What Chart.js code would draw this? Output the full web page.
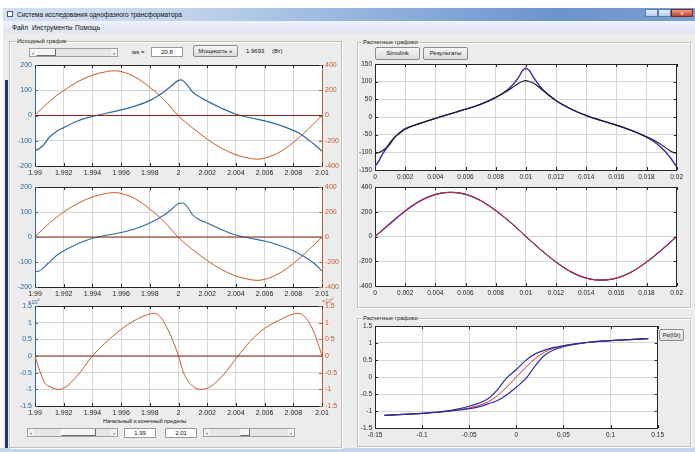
<!DOCTYPE html>
<html><head><meta charset="utf-8">
<script src="https://cdn.jsdelivr.net/npm/chart.js"></script>
<style>
body{margin:0;width:695px;height:452px;overflow:hidden;background:#ececec;font-family:"Liberation Sans",Arial,sans-serif;position:relative}
.a{position:absolute}
canvas{position:absolute}
.panel{position:absolute;border:1px solid #c0c0c0;box-shadow:inset 1px 1px 0 #fff,1px 1px 0 #fff}
.ptitle{position:absolute;background:#ececec;font-size:6px;color:#222;padding:0 1px;white-space:nowrap}
.btn{position:absolute;background:linear-gradient(#f7f7f7,#dcdcdc);border:1px solid #8c8c8c;border-radius:2px;font-size:6px;color:#111;text-align:center;box-sizing:border-box;white-space:nowrap}
.edit{position:absolute;background:#fff;border:1px solid #9a9a9a;font-size:6px;text-align:center;box-sizing:border-box;color:#111}
.slider{position:absolute;background:#e6e6e6;border:1px solid #a0a0a0;box-sizing:border-box}
.slider .ar{position:absolute;top:0;bottom:0;width:6px;background:#f4f4f4;font-size:6px;line-height:8px;text-align:center;color:#222}
.slider .th{position:absolute;top:0;bottom:0;background:#f6f6f6;border-left:1px solid #fff;border-right:1px solid #6d6d6d;border-bottom:1px solid #6d6d6d;box-sizing:border-box}
.t{position:absolute;font-size:6px;color:#111;white-space:nowrap}
</style></head><body>
<!-- window chrome -->
<div class="a" style="left:0;top:0;width:695px;height:8px;background:#fff"></div>
<div class="a" style="left:0;top:8px;width:3px;height:444px;background:#fff"></div>
<div class="a" style="left:3px;top:8px;width:692px;height:13px;background:linear-gradient(to right,#d4e1f1 0%,#c3d5ec 25%,#8fb0dc 55%,#6c94cc 80%,#7c9fd0 100%)"></div>
<div class="a" style="left:7px;top:11px;width:6px;height:6px;background:#fff;border:1px solid #557;box-sizing:border-box"></div>
<div class="t" style="left:17px;top:11px;font-size:6.5px">Система исследования однофазного трансформатора</div>
<div class="a" style="left:645px;top:9px;width:13px;height:8px;background:linear-gradient(#e3eefa,#b8cde8);border:1px solid #5d7fae;box-sizing:border-box"></div>
<div class="a" style="left:658px;top:9px;width:13px;height:8px;background:linear-gradient(#e3eefa,#b8cde8);border:1px solid #5d7fae;box-sizing:border-box"></div>
<div class="a" style="left:671px;top:9px;width:22px;height:8px;background:linear-gradient(#e8a090,#c4402e);border:1px solid #7a2a20;box-sizing:border-box;color:#fff;font-size:6px;line-height:6px;text-align:center">x</div>
<div class="a" style="left:3px;top:21px;width:692px;height:12px;background:linear-gradient(#eef2f9,#dfe6f3)"></div>
<div class="t" style="left:12px;top:24px;font-size:6.5px">Файл</div>
<div class="t" style="left:32px;top:24px;font-size:6.5px">Инструменты</div>
<div class="t" style="left:75px;top:24px;font-size:6.5px">Помощь</div>
<div class="a" style="left:5px;top:80px;width:3px;height:368px;background:#1f3a6a"></div>
<div class="a" style="left:0;top:448px;width:695px;height:4px;background:#c3d6ec"></div>

<!-- panels -->
<div class="panel" style="left:9px;top:41px;width:331px;height:405px"></div>
<div class="ptitle" style="left:16px;top:38px">Исходный график</div>
<div class="panel" style="left:357px;top:42px;width:332px;height:264px"></div>
<div class="ptitle" style="left:362px;top:39px">Расчетные графики</div>
<div class="panel" style="left:357px;top:318px;width:332px;height:127px"></div>
<div class="ptitle" style="left:362px;top:315px">Расчетные графики</div>

<!-- left top controls -->
<div class="slider" style="left:29px;top:48px;width:89px;height:9px"><div class="ar" style="left:0">‹</div><div class="th" style="left:6px;width:20px"></div><div class="ar" style="right:0">›</div></div>
<div class="t" style="left:132px;top:49px">ws =</div>
<div class="edit" style="left:151px;top:47px;width:32px;height:10px;line-height:8px">20.8</div>
<div class="btn" style="left:193px;top:45px;width:45px;height:12px;line-height:10px">Мощность »</div>
<div class="t" style="left:246px;top:48px">1.9693</div>
<div class="t" style="left:272px;top:48px">(Вт)</div>

<!-- left bottom controls -->
<div class="t" style="left:103px;top:418px;font-size:5.5px">Начальный и конечный пределы</div>
<div class="slider" style="left:27px;top:428px;width:91px;height:9px"><div class="ar" style="left:0">‹</div><div class="th" style="left:33px;width:35px"></div><div class="ar" style="right:0">›</div></div>
<div class="edit" style="left:124px;top:428px;width:32px;height:10px;line-height:8px">1.99</div>
<div class="edit" style="left:165px;top:428px;width:32px;height:10px;line-height:8px">2.01</div>
<div class="slider" style="left:203px;top:428px;width:92px;height:9px"><div class="ar" style="left:0">‹</div><div class="th" style="left:36px;width:10px"></div><div class="ar" style="right:0">›</div></div>

<!-- right controls -->
<div class="btn" style="left:375px;top:47px;width:45px;height:13px;line-height:11px">Simulink</div>
<div class="btn" style="left:423px;top:47px;width:45px;height:13px;line-height:11px">Результаты</div>
<div class="btn" style="left:659px;top:329px;width:25px;height:12px;line-height:10px;font-size:5.5px">Psi(I0r)</div>

<div class="t" style="left:28px;top:297px;font-size:5.5px;color:#2f5f8f">×10<sup style="font-size:4px">4</sup></div>
<div class="t" style="left:322px;top:296px;font-size:5.5px;color:#c0602c">×10<sup style="font-size:4px">4</sup></div>

<canvas id="p1" width="347" height="123" style="left:5px;top:57px"></canvas>
<canvas id="p2" width="347" height="122" style="left:5px;top:179px"></canvas>
<canvas id="p3" width="347" height="122" style="left:5px;top:298px"></canvas>
<canvas id="r1" width="341" height="128" style="left:345px;top:56px"></canvas>
<canvas id="r2" width="341" height="121" style="left:345px;top:179px"></canvas>
<canvas id="r3" width="322" height="124" style="left:345px;top:318px"></canvas>

<script>
// ---------- tick labels ----------
const leftXTicks = [1.99,1.992,1.994,1.996,1.998,2,2.002,2.004,2.006,2.008,2.01];
const currentTicks = [-200,-100,0,100,200];
const voltageTicks = [-400,-200,0,200,400];
const fluxTicks = [-15000,-10000,-5000,0,5000,10000,15000];
const rightXTicks = [0,0.002,0.004,0.006,0.008,0.01,0.012,0.014,0.016,0.018,0.02];
const r1YTicks = [-150,-100,-50,0,50,100,150];
const r2YTicks = [-400,-200,0,200,400];
const hystXTicks = [-0.15,-0.1,-0.05,0,0.05,0.1,0.15];
const hystYTicks = [-1.5,-1,-0.5,0,0.5,1,1.5];

// ---------- plot 1 (source data) ----------
const p1Time = [1.99,1.9905,1.991,1.9915,1.992,1.993,1.994,1.995,1.996,1.997,1.998,1.9985,1.999,1.9995,2,2.0002,2.0005,2.001,2.0015,2.002,2.003,2.004,2.005,2.006,2.007,2.008,2.0085,2.009,2.0095,2.01];
const p1Current = [-140,-123,-86,-63,-48,-21,-4,9,22,38,59,75,94,117,139,141,128,92,73,57,29,5,-9,-21,-37,-59,-73,-94,-116,-141];
const p1VTime = [1.99,1.991,1.992,1.993,1.994,1.995,1.9955,1.996,1.997,1.998,1.999,2,2.001,2.002,2.003,2.004,2.005,2.0055,2.006,2.007,2.008,2.009,2.01];
const p1Voltage = [3,111,198,269,319,348,354,348,303,224,124,-3,-100,-187,-259,-311,-340,-346,-338,-293,-214,-113,0];

// ---------- plot 2 ----------
const p2Time = [1.99,1.9903,1.9909,1.9915,1.992,1.993,1.994,1.995,1.996,1.997,1.998,1.999,1.9995,2,2.0003,2.0006,2.001,2.0015,2.002,2.003,2.004,2.005,2.006,2.007,2.008,2.0085,2.009,2.0095,2.01];
const p2Current = [-138,-136,-106,-74,-55,-27,-5,7,18,33,56,88,110,134,136,122,88,68,56,30,8,-5,-16,-33,-55,-70,-87,-108,-136];
const p2VTime = [1.99,1.991,1.992,1.993,1.994,1.995,1.9955,1.996,1.997,1.998,1.999,2,2.001,2.002,2.003,2.004,2.005,2.0055,2.006,2.007,2.008,2.009,2.01];
const p2Voltage = [2,110,200,270,320,349,355,349,304,224,122,-4,-102,-188,-260,-312,-341,-347,-339,-292,-212,-112,0];

// ---------- plot 3 ----------
const p3Time = [1.99,1.99035,1.9907,1.99104,1.99162,1.992,1.9929,1.994,1.995,1.996,1.99708,1.998,1.99835,1.99882,1.99928,1.99968,2,2.00032,2.00079,2.00148,2.002,2.00311,2.00415,2.00497,2.006,2.00729,2.008,2.0084,2.0089,2.00937,2.00972,2.01];
const p3Flux = [0,-4700,-8200,-9200,-10000,-9700,-6200,0,4300,8000,11000,12600,12800,11300,7800,3800,0,-4700,-8200,-10000,-9700,-5700,0,4300,8300,11300,12600,12800,11300,7800,3800,0];

// ---------- right plot 1 ----------
const r1Time = [0,0.00025,0.0005,0.00075,0.001,0.0013,0.0017,0.002,0.003,0.004,0.005,0.006,0.007,0.008,0.0085,0.009,0.0095,0.0098,0.01,0.0102,0.0105,0.011,0.0115,0.012,0.013,0.014,0.015,0.016,0.017,0.018,0.0185,0.019,0.0195,0.01975,0.02];
const r1Red   = [-141,-126,-106,-90,-77,-58,-42,-33,-18,-4,9,22,36,55,68,86,112,133,139,134,113,84,63,46,22,4,-10,-23,-38,-57,-70,-88,-112,-127,-142];
const r1Blue  = [-139,-124,-104,-89,-76,-58,-42,-33,-18,-4,9,22,36,55,68,85,111,132,137,133,112,83,62,46,22,4,-10,-23,-38,-57,-70,-87,-110,-125,-140];
const r1Black = [-103,-101,-95,-87,-72,-57,-44,-35,-18,-4,9,22,36,56,67,80,95,101,103,101,96,80,63,47,23,4,-10,-23,-38,-56,-66,-79,-94,-100,-103];

// ---------- right plot 2 ----------
const r2Time = [0,0.001,0.002,0.003,0.004,0.005,0.006,0.007,0.008,0.009,0.01,0.011,0.012,0.013,0.014,0.015,0.016,0.017,0.018,0.019,0.02];
const r2Red   = [0,110,210,290,340,357,341,290,209,111,0,-109,-207,-286,-336,-352,-336,-286,-206,-108,0];
const r2Blue  = [0,102,205,288,339,356,341,291,210,112,1,-108,-206,-286,-336,-353,-337,-287,-207,-109,0];
const r2Black = [0,105,207,289,340,357,342,291,210,112,1,-108,-207,-287,-337,-353,-337,-287,-207,-109,-1];

// ---------- hysteresis ----------
const hystI = [-0.14,-0.12,-0.1,-0.08,-0.06,-0.05,-0.04,-0.03,-0.02,-0.01,0,0.01,0.02,0.03,0.04,0.05,0.06,0.08,0.1,0.12,0.14];
const hystMid   = [-1.13,-1.10,-1.07,-1.03,-0.96,-0.91,-0.84,-0.73,-0.55,-0.29,0,0.28,0.54,0.73,0.85,0.92,0.97,1.03,1.07,1.10,1.13];
const hystUpper = [-1.13,-1.10,-1.07,-1.02,-0.93,-0.86,-0.77,-0.64,-0.37,-0.02,0.22,0.49,0.68,0.79,0.87,0.92,0.96,1.03,1.07,1.10,1.13];
const hystLower = [-1.13,-1.10,-1.07,-1.03,-0.97,-0.93,-0.88,-0.79,-0.69,-0.52,-0.30,-0.05,0.33,0.64,0.80,0.89,0.95,1.03,1.07,1.10,1.13];

// ---------- helpers ----------
const BLUE='#2f6a9c', ORANGE='#c65b2d', ZERO='#8a2812', DARK='#262626';
const pts = (xs, ys) => xs.map((x,i)=>({x, y:ys[i]}));
const fmtNum = v => String(+(+v).toFixed(4));

function scale(ticksArr, opt){
  const o = Object.assign({pos:'left', color:DARK, lab:DARK, fmt:fmtNum, grid:true, size:30, font:7}, opt);
  return {
    type:'linear', position:o.pos, min:ticksArr[0], max:ticksArr[ticksArr.length-1],
    afterBuildTicks: s => { s.ticks = ticksArr.map(v=>({value:v})); },
    afterFit: s => { if (o.pos==='bottom') s.height = o.size; else s.width = o.size; },
    ticks:{color:o.lab, font:{family:'Liberation Sans', size:o.font}, padding:3, autoSkip:false, maxRotation:0, callback:o.fmt},
    grid:{display:o.grid, drawOnChartArea:o.grid, color:'#d6d6d6', lineWidth:1, drawTicks:false},
    border:{display:true, color:o.color, width:1}
  };
}
function line(data, color, axis, w){
  return {data, borderColor:color, borderWidth:w||1.1, pointRadius:0, fill:false,
    cubicInterpolationMode:'monotone', yAxisID:axis||'y'};
}
const bgPlugin = {
  id:'bg',
  beforeDraw(chart){
    const {ctx, chartArea:a} = chart;
    ctx.save(); ctx.fillStyle = '#ffffff';
    ctx.fillRect(a.left, a.top, a.right-a.left, a.bottom-a.top);
    ctx.restore();
  }
};
const framePlugin = {
  id:'frame',
  afterDatasetsDraw(chart){
    const {ctx, chartArea:a, scales} = chart;
    const L = 3;
    ctx.save(); ctx.lineWidth = 1;
    const x = scales.x;
    ctx.strokeStyle = DARK;
    x.ticks.forEach(t => { const p = Math.round(x.getPixelForValue(t.value))+0.5;
      ctx.beginPath(); ctx.moveTo(p,a.bottom); ctx.lineTo(p,a.bottom-L); ctx.moveTo(p,a.top); ctx.lineTo(p,a.top+L); ctx.stroke(); });
    ctx.beginPath(); ctx.moveTo(a.left, Math.round(a.top)+0.5); ctx.lineTo(a.right, Math.round(a.top)+0.5); ctx.stroke();
    const y = scales.y, y2 = scales.y2;
    ctx.strokeStyle = y.options.border.color;
    y.ticks.forEach(t => { const p = Math.round(y.getPixelForValue(t.value))+0.5;
      ctx.beginPath(); ctx.moveTo(a.left,p); ctx.lineTo(a.left+L,p);
      if (!y2){ ctx.moveTo(a.right,p); ctx.lineTo(a.right-L,p); }
      ctx.stroke(); });
    if (y2){
      ctx.strokeStyle = y2.options.border.color;
      y2.ticks.forEach(t => { const p = Math.round(y2.getPixelForValue(t.value))+0.5;
        ctx.beginPath(); ctx.moveTo(a.right,p); ctx.lineTo(a.right-L,p); ctx.stroke(); });
    } else {
      ctx.strokeStyle = DARK;
      ctx.beginPath(); ctx.moveTo(Math.round(a.right)-0.5, a.top); ctx.lineTo(Math.round(a.right)-0.5, a.bottom); ctx.stroke();
    }
    ctx.restore();
  }
};
function make(id, datasets, scales, padTop){
  new Chart(document.getElementById(id), {
    type:'line',
    data:{datasets},
    options:{responsive:false, animation:false, events:[], devicePixelRatio:1,
      layout:{padding:{top:padTop||8, left:0, right:0, bottom:0}},
      plugins:{legend:{display:false}, tooltip:{enabled:false}},
      scales},
    plugins:[bgPlugin, framePlugin]
  });
}
const xLeft = () => scale(leftXTicks, {pos:'bottom', size:14});
const zeroLine = [{x:leftXTicks[0], y:0},{x:leftXTicks[leftXTicks.length-1], y:0}];

make('p1', [
  line(zeroLine, ZERO, 'y2', 1.2),
  line(pts(p1Time,p1Current), BLUE, 'y', 1.2),
  line(pts(p1VTime,p1Voltage), ORANGE, 'y2', 1)
], {x:xLeft(), y:scale(currentTicks,{color:BLUE, lab:BLUE}), y2:scale(voltageTicks,{pos:'right', color:ORANGE, lab:ORANGE, grid:false})});

make('p2', [
  line(zeroLine, ZERO, 'y2', 1.2),
  line(pts(p2Time,p2Current), BLUE, 'y', 1.1),
  line(pts(p2VTime,p2Voltage), ORANGE, 'y2', 1)
], {x:xLeft(), y:scale(currentTicks,{color:BLUE, lab:BLUE}), y2:scale(voltageTicks,{pos:'right', color:ORANGE, lab:ORANGE, grid:false})});

const fluxFmt = v => String(+(v/1e4).toFixed(2));
make('p3', [
  line(zeroLine, ZERO, 'y2', 1.2),
  line(pts(p3Time,p3Flux), ORANGE, 'y2', 1)
], {x:xLeft(), y:scale(fluxTicks,{color:BLUE, lab:BLUE, fmt:fluxFmt}), y2:scale(fluxTicks,{pos:'right', color:ORANGE, lab:ORANGE, grid:false, fmt:fluxFmt})});

const xRight = () => scale(rightXTicks, {pos:'bottom', size:14, font:6.5});
make('r1', [
  line(pts(r1Time,r1Black), '#1c1c1c', 'y', 1.1),
  line(pts(r1Time,r1Blue), '#3a2fb8', 'y', 1.3),
  line(pts(r1Time,r1Red), '#c8245a', 'y', 1)
], {x:xRight(), y:scale(r1YTicks,{font:6.5})});

make('r2', [
  line(pts(r2Time,r2Red), '#d0303a', 'y', 1),
  line(pts(r2Time,r2Blue), '#3530b0', 'y', 1.2),
  line(pts(r2Time,r2Black), '#1c1c1c', 'y', 1)
], {x:xRight(), y:scale(r2YTicks,{font:6.5})});

make('r3', [
  line(pts(hystI,hystUpper), '#2e2ea0', 'y', 1.2),
  line(pts(hystI,hystLower), '#2e2ea0', 'y', 1.2),
  line(pts(hystI,hystMid), '#c8302c', 'y', 1)
], {x:scale(hystXTicks,{pos:'bottom', size:14, font:6.5}), y:scale(hystYTicks,{font:6.5})});
</script>
</body></html>
